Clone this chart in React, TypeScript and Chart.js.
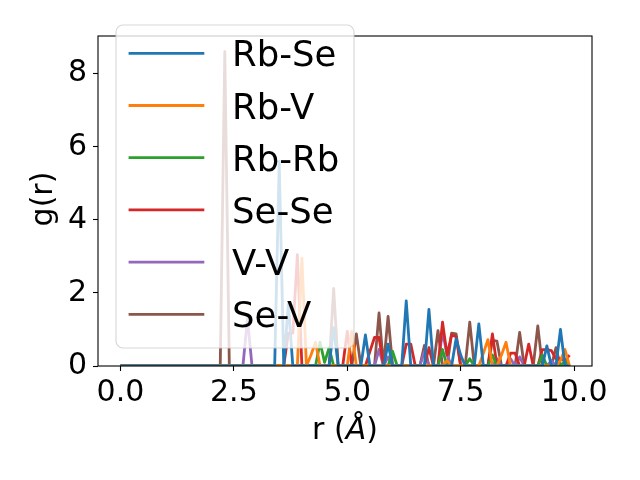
import React, { useEffect, useRef } from 'react';
import { Chart, registerables } from 'chart.js';

Chart.register(...registerables);

// radial distance grid (Å)
const rValues = [
  0.0, 0.1, 0.2, 0.3, 0.4, 0.5, 0.6, 0.7, 0.8, 0.9,
  1.0, 1.1, 1.2, 1.3, 1.4, 1.5, 1.6, 1.7, 1.8, 1.9,
  2.0, 2.1, 2.2, 2.3, 2.4, 2.5, 2.6, 2.7, 2.8, 2.9,
  3.0, 3.1, 3.2, 3.3, 3.4, 3.5, 3.6, 3.7, 3.8, 3.9,
  4.0, 4.1, 4.2, 4.3, 4.4, 4.5, 4.6, 4.7, 4.8, 4.9,
  5.0, 5.1, 5.2, 5.3, 5.4, 5.5, 5.6, 5.7, 5.8, 5.9,
  6.0, 6.1, 6.2, 6.3, 6.4, 6.5, 6.6, 6.7, 6.8, 6.9,
  7.0, 7.1, 7.2, 7.3, 7.4, 7.5, 7.6, 7.7, 7.8, 7.9,
  8.0, 8.1, 8.2, 8.3, 8.4, 8.5, 8.6, 8.7, 8.8, 8.9,
  9.0, 9.1, 9.2, 9.3, 9.4, 9.5, 9.6, 9.7, 9.8, 9.9,
];

const pairNames = ['Rb-Se', 'Rb-V', 'Rb-Rb', 'Se-Se', 'V-V', 'Se-V'];

const rbSe = [
  0, 0, 0, 0, 0, 0, 0, 0, 0, 0,
  0, 0, 0, 0, 0, 0, 0, 0, 0, 0,
  0, 0, 0, 0, 0, 0, 0, 0, 0, 0,
  0, 0, 0, 0, 0, 5.6, 0, 1.7, 0, 0,
  0, 0, 0, 0, 0, 0, 0, 1.05, 0, 0,
  0, 0, 0, 0, 0.85, 0, 0, 0, 0, 0.6,
  0, 0, 0, 1.78, 0, 0, 0, 0, 1.55, 0,
  0, 0, 0, 0, 0.75, 0.3, 0, 0, 0, 1.15,
  0, 0, 0, 0, 0, 0, 0, 0, 0, 0,
  0, 0, 0, 0, 0.55, 0, 0, 1.0, 0, 0,
];

const rbV = [
  0, 0, 0, 0, 0, 0, 0, 0, 0, 0,
  0, 0, 0, 0, 0, 0, 0, 0, 0, 0,
  0, 0, 0, 0, 0, 0, 0, 0, 0, 0,
  0, 0, 0, 0, 0, 0, 0, 0, 0, 0,
  2.95, 0, 0.3, 0.65, 0, 0, 0, 0, 0, 0,
  0, 0.95, 0, 0, 0, 0, 0, 0, 0, 0,
  0, 0, 0, 0, 0, 0, 0, 0, 0, 0,
  0, 0, 0.15, 0, 0, 0, 0, 0, 0, 0,
  0.35, 0.72, 0, 0, 0.3, 0.65, 0, 0, 0, 0,
  0, 0, 0, 0, 0, 0, 0, 0.15, 0.45, 0,
];

const rbRb = [
  0, 0, 0, 0, 0, 0, 0, 0, 0, 0,
  0, 0, 0, 0, 0, 0, 0, 0, 0, 0,
  0, 0, 0, 0, 0, 0, 0, 0, 0, 0,
  0, 0, 0, 0, 0, 0, 0, 0, 0, 0,
  0, 0, 0, 0, 0.65, 0.1, 0.5, 0, 0, 0,
  0, 0, 0, 0, 0, 0, 0, 0, 0, 0,
  0.4, 0, 0, 0, 0, 0, 0, 0, 0, 0,
  0, 0.45, 0, 0, 0, 0, 0, 0.2, 0, 0,
  0, 0, 0.3, 0, 0, 0, 0, 0, 0, 0,
  0, 0, 0, 0.3, 0, 0, 0, 0, 0.15, 0,
];

const seSe = [
  0, 0, 0, 0, 0, 0, 0, 0, 0, 0,
  0, 0, 0, 0, 0, 0, 0, 0, 0, 0,
  0, 0, 0, 0, 0, 0, 0, 0, 0, 0,
  0, 0, 0, 0, 0, 0, 0, 0.9, 0.9, 3.05,
  0, 0, 0, 0, 0, 0, 0, 0, 0, 0,
  0.95, 0, 0, 0, 0, 0.4, 0.78, 0.78, 0, 0,
  0, 0, 0, 0.6, 0.6, 0, 0, 0, 0.5, 0,
  0, 1.2, 0.3, 0.85, 0.8, 0, 0, 0, 0, 0,
  0, 0, 0.88, 0, 0, 0, 0.35, 0.35, 0, 0,
  0.6, 0, 0, 0.45, 0.45, 0.42, 0.2, 0.2, 0.15, 0.3,
];

const vV = [
  0, 0, 0, 0, 0, 0, 0, 0, 0, 0,
  0, 0, 0, 0, 0, 0, 0, 0, 0, 0,
  0, 0, 0, 0, 0, 0, 0, 0, 1.3, 0,
  0, 0, 0, 0, 0, 0, 0, 0, 0, 0,
  0, 0, 0, 0, 0, 0, 0, 0, 0, 0,
  0, 0, 0, 0, 0, 0, 0, 0.45, 0, 0.25,
  0, 0, 0, 0, 0, 0, 0, 0.4, 0, 0,
  0, 0.95, 0.3, 0, 0, 0, 0, 0, 0, 0,
  0, 0, 0, 0.2, 0, 0, 0.2, 0, 0.25, 0,
  0, 0, 0, 0, 0, 0.15, 0, 0, 0, 0,
];

const seV = [
  0, 0, 0, 0, 0, 0, 0, 0, 0, 0,
  0, 0, 0, 0, 0, 0, 0, 0, 0, 0,
  0, 0, 0, 8.6, 0, 0, 0, 0, 0, 0,
  0, 0, 0, 0, 0, 0, 0, 0, 0, 0,
  0, 0, 0, 0, 0, 0, 0, 2.12, 0, 0,
  0, 0, 0.88, 0, 0, 0, 0, 1.45, 0, 1.36,
  0, 0, 0, 0, 0, 0, 0, 0.56, 0, 0,
  0.97, 0, 0, 0.9, 0.88, 0, 0, 1.2, 0, 0,
  0, 0, 0.7, 0.68, 0, 0, 0, 0, 0.92, 0,
  0, 0, 1.1, 0, 0, 0, 0.5, 0, 0, 0,
];

const xTickValues = [0, 2.5, 5, 7.5, 10];
const yTickValues = [0, 2, 4, 6, 8];

const seriesList = [rbSe, rbV, rbRb, seSe, vV, seV];
const colors = ['#1f77b4', '#ff7f0e', '#2ca02c', '#d62728', '#9467bd', '#8c564b'];
const FONT = "'DejaVu Sans', sans-serif";

// spines, matplotlib-like legend box and axis labels
const decorPlugin = {
  id: 'mplDecor',
  afterDatasetsDraw(chart: any) {
    const { ctx, chartArea: a } = chart;
    ctx.save();

    ctx.strokeStyle = '#000';
    ctx.lineWidth = 1.1;
    ctx.strokeRect(a.left, a.top, a.right - a.left, a.bottom - a.top);

    // legend
    const lx = a.left + 18;
    const ly = a.top - 11;
    ctx.beginPath();
    ctx.roundRect(lx, ly, 238, 323, 7);
    ctx.fillStyle = 'rgba(255,255,255,0.8)';
    ctx.fill();
    ctx.strokeStyle = 'rgba(204,204,204,0.8)';
    ctx.lineWidth = 1.1;
    ctx.stroke();

    chart.data.datasets.forEach((ds: any, i: number) => {
      const y = ly + 28.3 + i * 52.2;
      ctx.strokeStyle = ds.borderColor;
      ctx.lineWidth = 2.8;
      ctx.beginPath();
      ctx.moveTo(lx + 12.6, y);
      ctx.lineTo(lx + 88.3, y);
      ctx.stroke();
      ctx.fillStyle = '#000';
      ctx.font = `35.5px ${FONT}`;
      ctx.textAlign = 'left';
      ctx.textBaseline = 'alphabetic';
      ctx.fillText(ds.label, lx + 116, y + 13);
    });

    // y label
    ctx.fillStyle = '#000';
    ctx.font = `30px ${FONT}`;
    ctx.textAlign = 'center';
    ctx.textBaseline = 'middle';
    ctx.save();
    ctx.translate(44, 199);
    ctx.rotate(-Math.PI / 2);
    ctx.fillText('g(r)', 0, 0);
    ctx.restore();

    // x label: r (Å) with italic Å
    const normal = `30px ${FONT}`;
    const italic = `italic 30px ${FONT}`;
    ctx.textAlign = 'left';
    ctx.font = normal;
    const w1 = ctx.measureText('r (').width;
    const w3 = ctx.measureText(')').width;
    ctx.font = italic;
    const w2 = ctx.measureText('Å').width;
    let x = (a.left + a.right) / 2 - (w1 + w2 + w3) / 2;
    const yl = 431;
    ctx.font = normal;
    ctx.fillText('r (', x, yl);
    x += w1;
    ctx.font = italic;
    ctx.fillText('Å', x, yl);
    x += w2;
    ctx.font = normal;
    ctx.fillText(')', x, yl);

    ctx.restore();
  },
};

export default function App() {
  const canvasRef = useRef<HTMLCanvasElement | null>(null);
  const chartRef = useRef<Chart | null>(null);

  useEffect(() => {
    document.body.style.margin = '0';
    const canvas = canvasRef.current;
    if (!canvas) return;
    const ctx = canvas.getContext('2d');
    if (!ctx) return;

    chartRef.current = new Chart(ctx, {
      type: 'line',
      data: {
        datasets: seriesList.map((vals, i) => ({
          label: pairNames[i],
          data: rValues.map((r, j) => ({ x: r, y: vals[j] })),
          borderColor: colors[i],
          backgroundColor: colors[i],
          borderWidth: 2.8,
          borderJoinStyle: 'round' as const,
          pointRadius: 0,
          tension: 0,
          fill: false,
          clip: 0,
        })),
      },
      options: {
        responsive: false,
        animation: false,
        events: [],
        layout: { padding: { top: 36, right: 48, left: 0, bottom: 0 } },
        plugins: { legend: { display: false }, tooltip: { enabled: false } },
        scales: {
          x: {
            type: 'linear',
            min: -0.495,
            max: 10.395,
            afterBuildTicks: (s: any) => {
              s.ticks = xTickValues.map((v) => ({ value: v }));
            },
            afterFit: (s: any) => {
              s.height = 114;
            },
            grid: { drawOnChartArea: false, drawTicks: true, tickLength: 5, tickWidth: 1.1, tickColor: '#000' },
            border: { display: false },
            ticks: {
              color: '#000',
              font: { family: FONT, size: 30 },
              padding: 4,
              maxRotation: 0,
              autoSkip: false,
              callback: (v: any) => Number(v).toFixed(1),
            },
          },
          y: {
            type: 'linear',
            min: 0,
            max: 9.03,
            afterBuildTicks: (s: any) => {
              s.ticks = yTickValues.map((v) => ({ value: v }));
            },
            afterFit: (s: any) => {
              s.width = 98;
            },
            grid: { drawOnChartArea: false, drawTicks: true, tickLength: 5, tickWidth: 1.1, tickColor: '#000' },
            border: { display: false },
            ticks: {
              color: '#000',
              font: { family: FONT, size: 30 },
              padding: 6,
              autoSkip: false,
              callback: (v: any) => String(v),
            },
          },
        },
      },
      plugins: [decorPlugin],
    });

    return () => {
      chartRef.current?.destroy();
      chartRef.current = null;
    };
  }, []);

  return (
    <div style={{ width: 640, height: 480, position: 'relative', background: '#fff' }}>
      <canvas ref={canvasRef} width={640} height={480} aria-label="Radial distribution functions" role="img" />
    </div>
  );
}
